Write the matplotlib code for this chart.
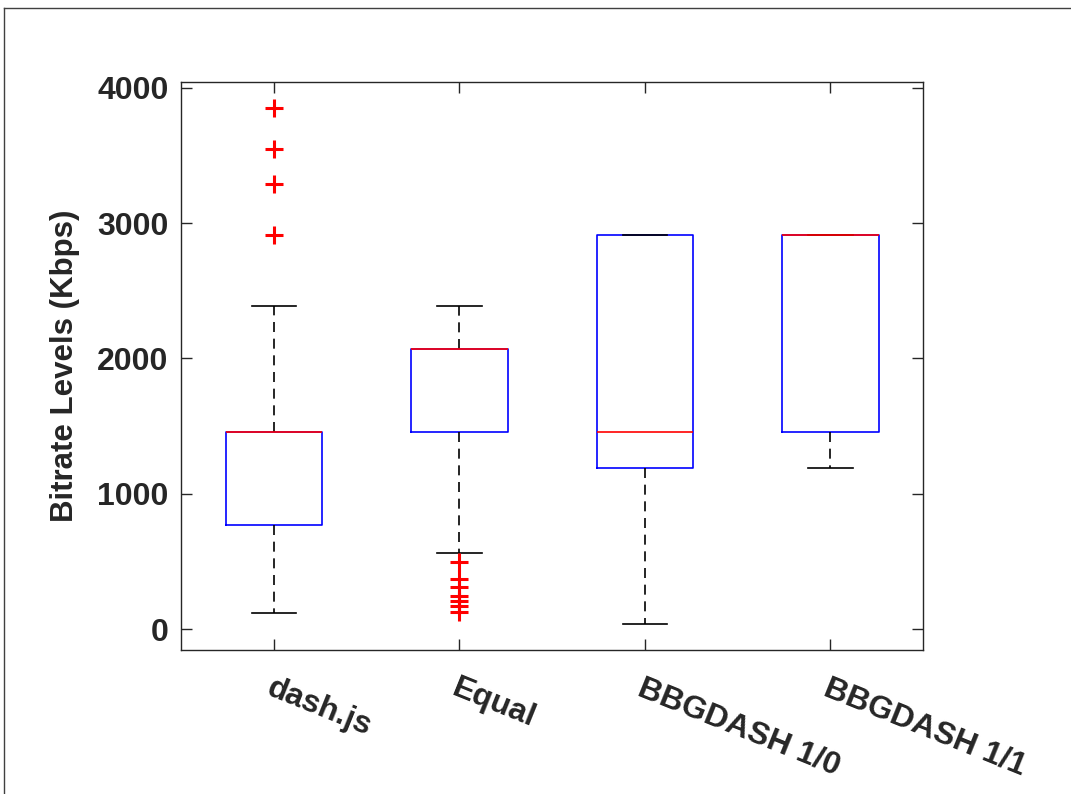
import matplotlib
matplotlib.use("Agg")
import matplotlib.pyplot as plt
from matplotlib.lines import Line2D

plt.rcParams['font.family'] = ['Liberation Sans', 'DejaVu Sans']

categories = ["dash.js", "Equal", "BBGDASH 1/0", "BBGDASH 1/1"]
whisker_low = [120, 564, 37, 1193]
q1 = [770, 1454, 1193, 1454]
median = [1454, 2070, 1454, 2911]
q3 = [1454, 2070, 2911, 2911]
whisker_high = [2390, 2390, 2911, 2911]
outliers = [
    [2911, 3288, 3550, 3850],
    [498, 367, 313, 244, 209, 168, 123],
    [],
    [],
]

stats = []
for i, name in enumerate(categories):
    stats.append(dict(label=name, med=median[i], q1=q1[i], q3=q3[i],
                      whislo=whisker_low[i], whishi=whisker_high[i],
                      fliers=outliers[i]))

fig = plt.figure(figsize=(10.71, 7.94), dpi=100)
ax = fig.add_axes([0.169, 0.1814, 0.693, 0.7153])

ax.bxp(stats, positions=range(1, len(categories) + 1), widths=0.52,
       capwidths=0.24, showfliers=True,
       boxprops=dict(color='#0000ff', linewidth=1.2),
       medianprops=dict(color='#ff0000', linewidth=1.2),
       whiskerprops=dict(color='black', linewidth=1.2, linestyle=(0, (6, 4))),
       capprops=dict(color='black', linewidth=1.2),
       flierprops=dict(marker='+', markeredgecolor='#ff0000', markersize=13,
                       markeredgewidth=2.2, linestyle='none'))

ax.set_xlim(0.5, 4.5)
ax.set_ylim(-155, 4044)
ax.set_yticks([0, 1000, 2000, 3000, 4000])
ax.set_xticks(range(1, 5))
ax.set_xticklabels(categories, rotation=-22, ha='left', va='top',
                   rotation_mode='anchor', fontsize=23, fontweight='bold',
                   color='#262626')
ax.tick_params(axis='x', pad=17)
ax.tick_params(axis='y', labelsize=23, pad=9)
for lbl in ax.get_xticklabels():
    lbl.set_fontweight('bold')
for lbl in ax.get_yticklabels():
    lbl.set_fontweight('bold')
    lbl.set_color('#262626')
ax.tick_params(direction='in', length=8, width=1, top=True, right=True,
               colors='#262626')
for s in ax.spines.values():
    s.set_color('#262626')
    s.set_linewidth(1)
ax.set_ylabel('Bitrate Levels (Kbps)', fontsize=22.5, fontweight='bold',
              color='#262626', labelpad=12)

# figure border (left and top)
fig.add_artist(Line2D([0.004, 0.004], [0, 0.99], transform=fig.transFigure,
                      color='#404040', linewidth=1))
fig.add_artist(Line2D([0.004, 1.0], [0.99, 0.99], transform=fig.transFigure,
                      color='#404040', linewidth=1))

fig.savefig('out.png', dpi=100)
